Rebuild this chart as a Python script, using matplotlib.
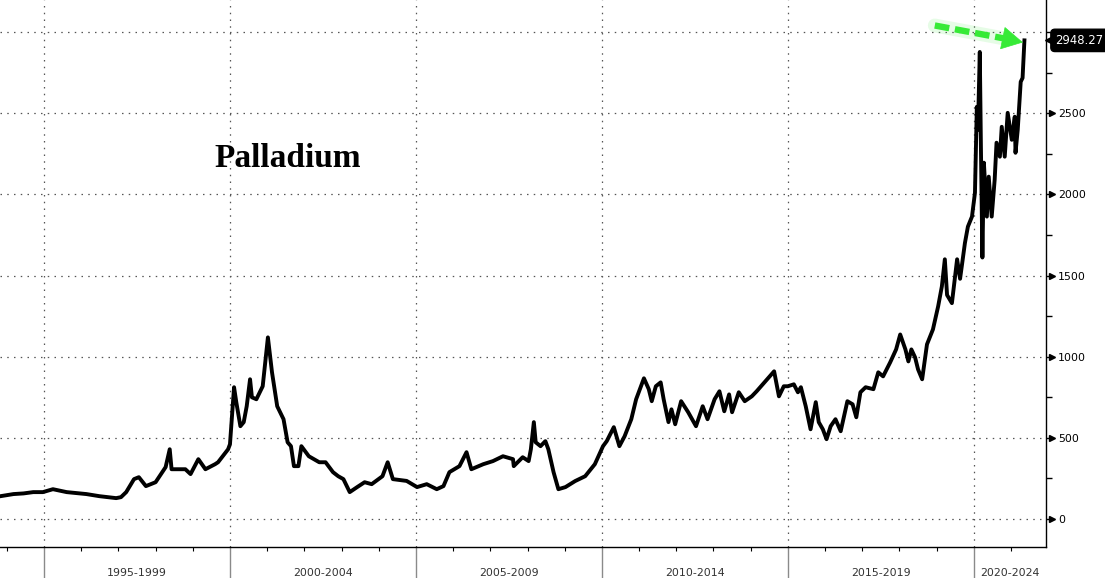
import matplotlib
matplotlib.use('Agg')
import matplotlib.pyplot as plt
import matplotlib.transforms as mtrans
from matplotlib.ticker import FixedLocator, FuncFormatter

# ---- data ----
dates = [1993.83, 1994.18, 1994.45, 1994.71, 1994.97, 1995.24, 1995.61, 1996.14, 1996.49, 1996.94,
         1997.07, 1997.21, 1997.42, 1997.55, 1997.74, 1998.00, 1998.27, 1998.38, 1998.43, 1998.80,
         1998.94, 1999.15, 1999.34, 1999.60, 1999.68, 1999.95, 2000.00, 2000.11, 2000.17, 2000.28,
         2000.37, 2000.45, 2000.54, 2000.59, 2000.71, 2000.88, 2001.02, 2001.13, 2001.27, 2001.44,
         2001.55, 2001.64, 2001.72, 2001.84, 2001.92, 2002.12, 2002.40, 2002.57, 2002.77, 2002.91,
         2003.05, 2003.22, 2003.42, 2003.62, 2003.81, 2004.10, 2004.24, 2004.38, 2004.75, 2005.03,
         2005.29, 2005.56, 2005.74, 2005.90, 2006.17, 2006.36, 2006.49, 2006.81, 2007.07, 2007.34,
         2007.61, 2007.63, 2007.87, 2008.03, 2008.09, 2008.17, 2008.22, 2008.35, 2008.48, 2008.56,
         2008.70, 2008.83, 2009.02, 2009.28, 2009.55, 2009.81, 2010.03, 2010.13, 2010.32, 2010.47,
         2010.61, 2010.79, 2010.92, 2011.05, 2011.13, 2011.26, 2011.34, 2011.45, 2011.58, 2011.66,
         2011.79, 2011.87, 2011.97, 2012.13, 2012.32, 2012.53, 2012.71, 2012.84, 2013.03, 2013.16,
         2013.29, 2013.42, 2013.50, 2013.68, 2013.84, 2014.03, 2014.16, 2014.37, 2014.63, 2014.76,
         2014.89, 2015.00, 2015.16, 2015.27, 2015.35, 2015.48, 2015.61, 2015.75, 2015.83, 2015.94,
         2016.04, 2016.15, 2016.28, 2016.42, 2016.60, 2016.74, 2016.84, 2016.95, 2017.09, 2017.30,
         2017.43, 2017.56, 2017.75, 2017.91, 2018.02, 2018.16, 2018.24, 2018.32, 2018.42, 2018.50,
         2018.61, 2018.74, 2018.90, 2019.04, 2019.14, 2019.22, 2019.28, 2019.41, 2019.55, 2019.63,
         2019.76, 2019.84, 2019.95, 2020.03, 2020.08, 2020.11, 2020.16, 2020.19, 2020.23, 2020.27,
         2020.35, 2020.40, 2020.48, 2020.56, 2020.61, 2020.70, 2020.75, 2020.83, 2020.91, 2021.02,
         2021.10, 2021.12, 2021.18, 2021.26, 2021.31, 2021.36]
prices = [141, 154, 158, 166, 166, 184, 166, 154, 141, 129,
          135, 166, 246, 258, 203, 227, 320, 430, 307, 307,
          277, 369, 307, 338, 350, 430, 461, 812, 720, 572,
          597, 695, 861, 750, 738, 818, 1119, 904, 695, 615,
          473, 449, 326, 326, 449, 387, 350, 350, 289, 264,
          246, 166, 197, 227, 215, 264, 350, 246, 235, 197,
          215, 184, 203, 289, 326, 412, 307, 338, 357, 387,
          369, 326, 381, 357, 430, 597, 473, 449, 480, 430,
          289, 184, 197, 234, 264, 338, 449, 480, 566, 449,
          510, 615, 738, 818, 867, 800, 726, 818, 842, 738,
          597, 676, 584, 726, 658, 572, 695, 615, 738, 787,
          664, 768, 658, 781, 726, 756, 787, 842, 910, 756,
          818, 818, 830, 781, 812, 695, 553, 720, 597, 553,
          492, 572, 615, 541, 726, 707, 627, 781, 812, 800,
          904, 879, 965, 1045, 1137, 1045, 971, 1045, 996, 922,
          861, 1076, 1168, 1310, 1433, 1600, 1380, 1330, 1600, 1480,
          1700, 1801, 1863, 2010, 2539, 2398, 2877, 2293, 1611, 2195,
          1863, 2109, 1863, 2090, 2318, 2232, 2416, 2232, 2502, 2336,
          2478, 2256, 2398, 2693, 2717, 2948.27]
last_price = 2948.27
y_ticks = [0, 500, 1000, 1500, 2000, 2500, 3000]
y_minor_ticks = [250, 750, 1250, 1750, 2250, 2750]
period_starts = [1995, 2000, 2005, 2010, 2015, 2020]
period_labels = ['1995-1999', '2000-2004', '2005-2009', '2010-2014', '2015-2019', '2020-2024']
year_ticks = list(range(1994, 2022))
title_text = 'Palladium'

# ---- figure ----
W, H = 1105, 578
fig = plt.figure(figsize=(W / 100, H / 100), dpi=100)
fig.patch.set_facecolor('white')
ax = fig.add_axes([0, 31 / H, 1046 / W, 547 / H])
x_min, x_max = 1993.817, 2021.94
ax.set_xlim(x_min, x_max)
ax.set_ylim(-172, 3197)

ax.plot(dates, prices, color='black', lw=2.8, zorder=4)

# spines
for s in ['top', 'left']:
    ax.spines[s].set_visible(False)
ax.spines['right'].set_linewidth(1.0)
ax.spines['bottom'].set_linewidth(1.0)

# grid
grid_kw = dict(color='#555555', lw=0.9, ls=(0, (1.2, 4.2)))
ax.yaxis.set_major_locator(FixedLocator(y_ticks))
ax.yaxis.set_minor_locator(FixedLocator(y_minor_ticks))
ax.xaxis.set_major_locator(FixedLocator(period_starts))
ax.xaxis.set_minor_locator(FixedLocator(year_ticks))
ax.grid(True, which='major', **grid_kw)

# y axis on the right
ax.yaxis.tick_right()
ax.yaxis.set_major_formatter(FuncFormatter(lambda v, p: '' if v >= 3000 else f'{int(v)}'))
ax.tick_params(axis='y', which='major', direction='out', length=4, width=1,
               labelsize=7.9, pad=4.5, colors='black')
ax.tick_params(axis='y', which='minor', direction='out', length=4, width=1)

# small triangles at the labelled ticks
tri_tr = mtrans.blended_transform_factory(ax.transAxes, ax.transData) + \
    mtrans.ScaledTranslation(6 / 100, 0, fig.dpi_scale_trans)
ax.plot([1] * 6, y_ticks[:6], transform=tri_tr, ls='none', marker='>', ms=4.5,
        color='black', clip_on=False, zorder=5)

# x axis: separators and year ticks
ax.tick_params(axis='x', which='major', direction='out', length=23, width=1,
               color='#8a8a8a', labelbottom=False)
ax.tick_params(axis='x', which='minor', direction='out', length=3, width=0.8, color='black')

lab_tr = mtrans.blended_transform_factory(ax.transData, ax.transAxes)
bounds = period_starts + [x_max]
for i, lab in enumerate(period_labels):
    if i < len(period_labels) - 1:
        cx = bounds[i] + 2.5
    else:
        cx = (bounds[i] + bounds[i + 1]) / 2
    ax.text(cx, -0.047, lab, transform=lab_tr, ha='center', va='center',
            fontsize=7.9, color='#333333', clip_on=False)

# last price box
box_tr = mtrans.blended_transform_factory(ax.transAxes, ax.transData)
ax.plot([1], [last_price], transform=box_tr + mtrans.ScaledTranslation(5 / 100, 0, fig.dpi_scale_trans),
        marker='<', ms=9, color='black', clip_on=False, zorder=6)
ax.text(1, last_price, f'{last_price:.2f}', transform=box_tr + mtrans.ScaledTranslation(9.5 / 100, 0, fig.dpi_scale_trans),
        ha='left', va='center', fontsize=8.4, color='white', clip_on=False, zorder=7,
        bbox=dict(boxstyle='round,pad=0.4,rounding_size=0.35', fc='black', ec='black'))

# title text
ax.text(0.2753, 0.711, title_text, transform=ax.transAxes, ha='center', va='center',
        fontsize=24, fontweight='bold', family='Liberation Serif', color='black')

# green dashed arrow
green = '#36ea36'
arrow_start = (2018.95, 3040)
arrow_base = (2020.82, 2960)
arrow_tip = (2021.32, 2936)
ax.plot([arrow_start[0], arrow_base[0]], [arrow_start[1], arrow_base[1]], color=green,
        lw=10, alpha=0.12, solid_capstyle='round', zorder=5)
ax.plot([arrow_start[0], arrow_base[0]], [arrow_start[1], arrow_base[1]], color=green,
        lw=4.6, ls=(0, (2.3, 0.9)), dash_capstyle='butt', zorder=6)
ax.annotate('', xy=arrow_tip, xytext=arrow_base,
            arrowprops=dict(arrowstyle='-|>,head_length=1.1,head_width=0.6', color=green,
                            lw=0.5, mutation_scale=13, shrinkA=0, shrinkB=0), zorder=6)

fig.savefig('out.png', dpi=100, facecolor='white')
